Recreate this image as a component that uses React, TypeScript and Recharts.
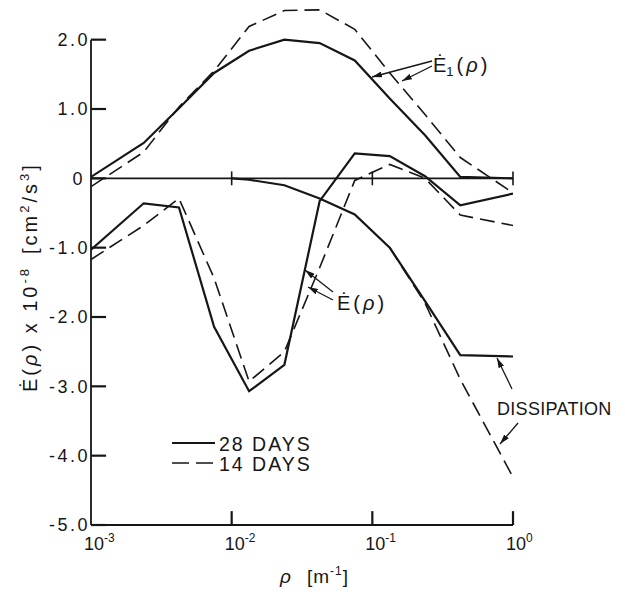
import { LineChart, Line, XAxis, YAxis, ReferenceLine } from "recharts";

// wavenumber grid shared by the E1 and E curves (log-spaced samples)
const rhoGrid = [0.001, 0.00237, 0.00422, 0.0075, 0.0133, 0.0237, 0.0422, 0.075, 0.133, 0.237, 0.422, 1];

// Ė1(ρ)
const e1Days28 = [0.02, 0.51, 1.01, 1.52, 1.84, 2.0, 1.95, 1.7, 1.15, 0.62, 0.02, 0.0];
const e1Days14 = [-0.12, 0.38, 1.03, 1.55, 2.19, 2.42, 2.43, 2.15, 1.52, 0.92, 0.3, -0.21];

// Ė(ρ)
const eDays28 = [-1.03, -0.36, -0.42, -2.14, -3.07, -2.69, -0.33, 0.36, 0.32, 0.03, -0.39, -0.22];
const eDays14 = [-1.17, -0.68, -0.29, -1.44, -2.93, -2.5, -1.29, -0.03, 0.2, 0.0, -0.53, -0.68];

// dissipation
const dissRho28 = [0.01, 0.0133, 0.0237, 0.0422, 0.075, 0.133, 0.237, 0.422, 1];
const dissDays28 = [0, -0.02, -0.1, -0.29, -0.52, -1.0, -1.77, -2.55, -2.57];
const dissRho14 = [0.133, 0.237, 0.422, 1];
const dissDays14 = [-1.0, -1.8, -2.9, -4.31];

const xTicks = [0.001, 0.01, 0.1, 1];
const yTicks = [-5, -4, -3, -2, -1, 0, 1, 2];

const INK = "#161616";
const FONT = "'Liberation Sans', Arial, sans-serif";
const DASH = "15 7";

const W = 625;
const H = 592;
const margin = { top: 5, right: 112, bottom: 37, left: 31 };
const Y_AXIS_W = 60;
const X_AXIS_H = 30;
const PLOT_LEFT = margin.left + Y_AXIS_W;
const PLOT_BOTTOM = H - margin.bottom - X_AXIS_H;

// inward tick lengths, in data units (about 15 px)
const Y_TICK_END = 0.00128;
const X_TICK_TOP = -4.8;

const zip = (xs: number[], ys: number[]) => xs.map((x, i) => ({ x, y: ys[i] }));

function YTick(props: any) {
  const { y, payload } = props;
  const v = payload.value as number;
  const label = v === 0 ? "0" : v.toFixed(1);
  return (
    <text
      x={v === 0 ? PLOT_LEFT - 6 : PLOT_LEFT - 1}
      y={y}
      dy="0.36em"
      textAnchor="end"
      fontSize={18}
      letterSpacing={2.5}
      fontFamily={FONT}
      fill={INK}
    >
      {label}
    </text>
  );
}

function XTick(props: any) {
  const { x, payload } = props;
  const exp = Math.round(Math.log10(payload.value));
  return (
    <text x={x - 7} y={PLOT_BOTTOM + 25} fontSize={18} fontFamily={FONT} fill={INK}>
      10
      <tspan dy={-8} fontSize={12}>
        {exp}
      </tspan>
    </text>
  );
}

function Annotations() {
  return (
    <svg
      width={W}
      height={H}
      style={{ position: "absolute", left: 0, top: 0, pointerEvents: "none" }}
      fontFamily={FONT}
      fill={INK}
    >
      <defs>
        <marker id="head" viewBox="0 0 10 6" refX="10" refY="3" markerWidth="10" markerHeight="6" orient="auto" markerUnits="userSpaceOnUse">
          <path d="M0,0 L10,3 L0,6 z" fill={INK} />
        </marker>
      </defs>

      {/* Ė1(ρ) */}
      <text x={433} y={72} fontSize={20}>
        Ė<tspan dy={4} fontSize={13}>1</tspan>
        <tspan dy={-4} dx={3} letterSpacing={3}>(<tspan fontStyle="italic">ρ</tspan>)</tspan>
      </text>
      <g stroke={INK} strokeWidth={1.3} markerEnd="url(#head)">
        <line x1={432} y1={61} x2={372} y2={77} />
        <line x1={432} y1={66} x2={402} y2={81} />
      </g>

      {/* Ė(ρ) */}
      <text x={337} y={310} fontSize={20}>
        Ė<tspan dx={3} letterSpacing={3}>(<tspan fontStyle="italic">ρ</tspan>)</tspan>
      </text>
      <g stroke={INK} strokeWidth={1.3} markerEnd="url(#head)">
        <line x1={333} y1={292} x2={305} y2={270} />
        <line x1={333} y1={300} x2={308} y2={287} />
      </g>

      {/* dissipation */}
      <text x={497} y={415} fontSize={18} letterSpacing={0.3}>
        DISSIPATION
      </text>
      <g stroke={INK} strokeWidth={1.3} markerEnd="url(#head)">
        <line x1={512} y1={389} x2={497} y2={358} />
        <line x1={518} y1={423} x2={500} y2={444} />
      </g>

      {/* legend */}
      <line x1={172} y1={443} x2={215} y2={443} stroke={INK} strokeWidth={2.2} />
      <text x={219} y={451} fontSize={19.5} letterSpacing={2}>
        28 DAYS
      </text>
      <line x1={172} y1={463} x2={215} y2={463} stroke={INK} strokeWidth={1.6} strokeDasharray="17 7" />
      <text x={219} y={471} fontSize={19.5} letterSpacing={2}>
        14 DAYS
      </text>

      {/* axis titles */}
      <text x={280} y={583} fontSize={19} fontStyle="italic">
        ρ
      </text>
      <text x={307} y={583} fontSize={19} letterSpacing={1}>
        [m<tspan dy={-8} fontSize={12}>-1</tspan>
        <tspan dy={8}>]</tspan>
      </text>
      <text transform="translate(37,392) rotate(-90)" fontSize={20} letterSpacing={3}>
        Ė(<tspan fontStyle="italic">ρ</tspan>) x 10
        <tspan dy={-8} fontSize={13}>-8</tspan>
        <tspan dy={8} dx={12}>[cm</tspan>
        <tspan dy={-8} fontSize={13}>2</tspan>
        <tspan dy={8}>/s</tspan>
        <tspan dy={-8} fontSize={13}>3</tspan>
        <tspan dy={8}>]</tspan>
      </text>
    </svg>
  );
}

export default function App() {
  return (
    <div style={{ position: "absolute", left: 0, top: 0, width: W, height: H, background: "#fff", fontFamily: FONT }}>
      <LineChart width={W} height={H} margin={margin}>
        <XAxis
          dataKey="x"
          type="number"
          scale="log"
          domain={[0.001, 1]}
          ticks={xTicks}
          allowDataOverflow
          axisLine={{ stroke: INK, strokeWidth: 1.8 }}
          tickLine={false}
          height={X_AXIS_H}
          tick={<XTick />}
        />
        <YAxis
          type="number"
          domain={[-5, 2.5]}
          ticks={yTicks}
          axisLine={false}
          tickLine={false}
          tick={<YTick />}
          width={Y_AXIS_W}
        />
        <ReferenceLine segment={[{ x: 0.001, y: -5 }, { x: 0.001, y: 2 }]} stroke={INK} strokeWidth={1.8} />
        <ReferenceLine y={0} stroke={INK} strokeWidth={1.6} />
        {xTicks.slice(1).map((t) => (
          <ReferenceLine key={`z${t}`} segment={[{ x: t, y: -0.1 }, { x: t, y: 0.1 }]} stroke={INK} strokeWidth={1.6} />
        ))}
        {yTicks.map((v) => (
          <ReferenceLine key={`y${v}`} segment={[{ x: 0.001, y: v }, { x: Y_TICK_END, y: v }]} stroke={INK} strokeWidth={2.2} />
        ))}
        {xTicks.slice(1).map((t) => (
          <ReferenceLine key={`x${t}`} segment={[{ x: t, y: -5 }, { x: t, y: X_TICK_TOP }]} stroke={INK} strokeWidth={2.2} />
        ))}

        <Line data={zip(rhoGrid, e1Days28)} dataKey="y" type="linear" stroke={INK} strokeWidth={2.2} dot={false} isAnimationActive={false} />
        <Line data={zip(rhoGrid, e1Days14)} dataKey="y" type="linear" stroke={INK} strokeWidth={1.6} strokeDasharray={DASH} dot={false} isAnimationActive={false} />
        <Line data={zip(rhoGrid, eDays28)} dataKey="y" type="linear" stroke={INK} strokeWidth={2.2} dot={false} isAnimationActive={false} />
        <Line data={zip(rhoGrid, eDays14)} dataKey="y" type="linear" stroke={INK} strokeWidth={1.6} strokeDasharray={DASH} dot={false} isAnimationActive={false} />
        <Line data={zip(dissRho28, dissDays28)} dataKey="y" type="linear" stroke={INK} strokeWidth={2.2} dot={false} isAnimationActive={false} />
        <Line data={zip(dissRho14, dissDays14)} dataKey="y" type="linear" stroke={INK} strokeWidth={1.6} strokeDasharray={DASH} dot={false} isAnimationActive={false} />
      </LineChart>
      <Annotations />
    </div>
  );
}
